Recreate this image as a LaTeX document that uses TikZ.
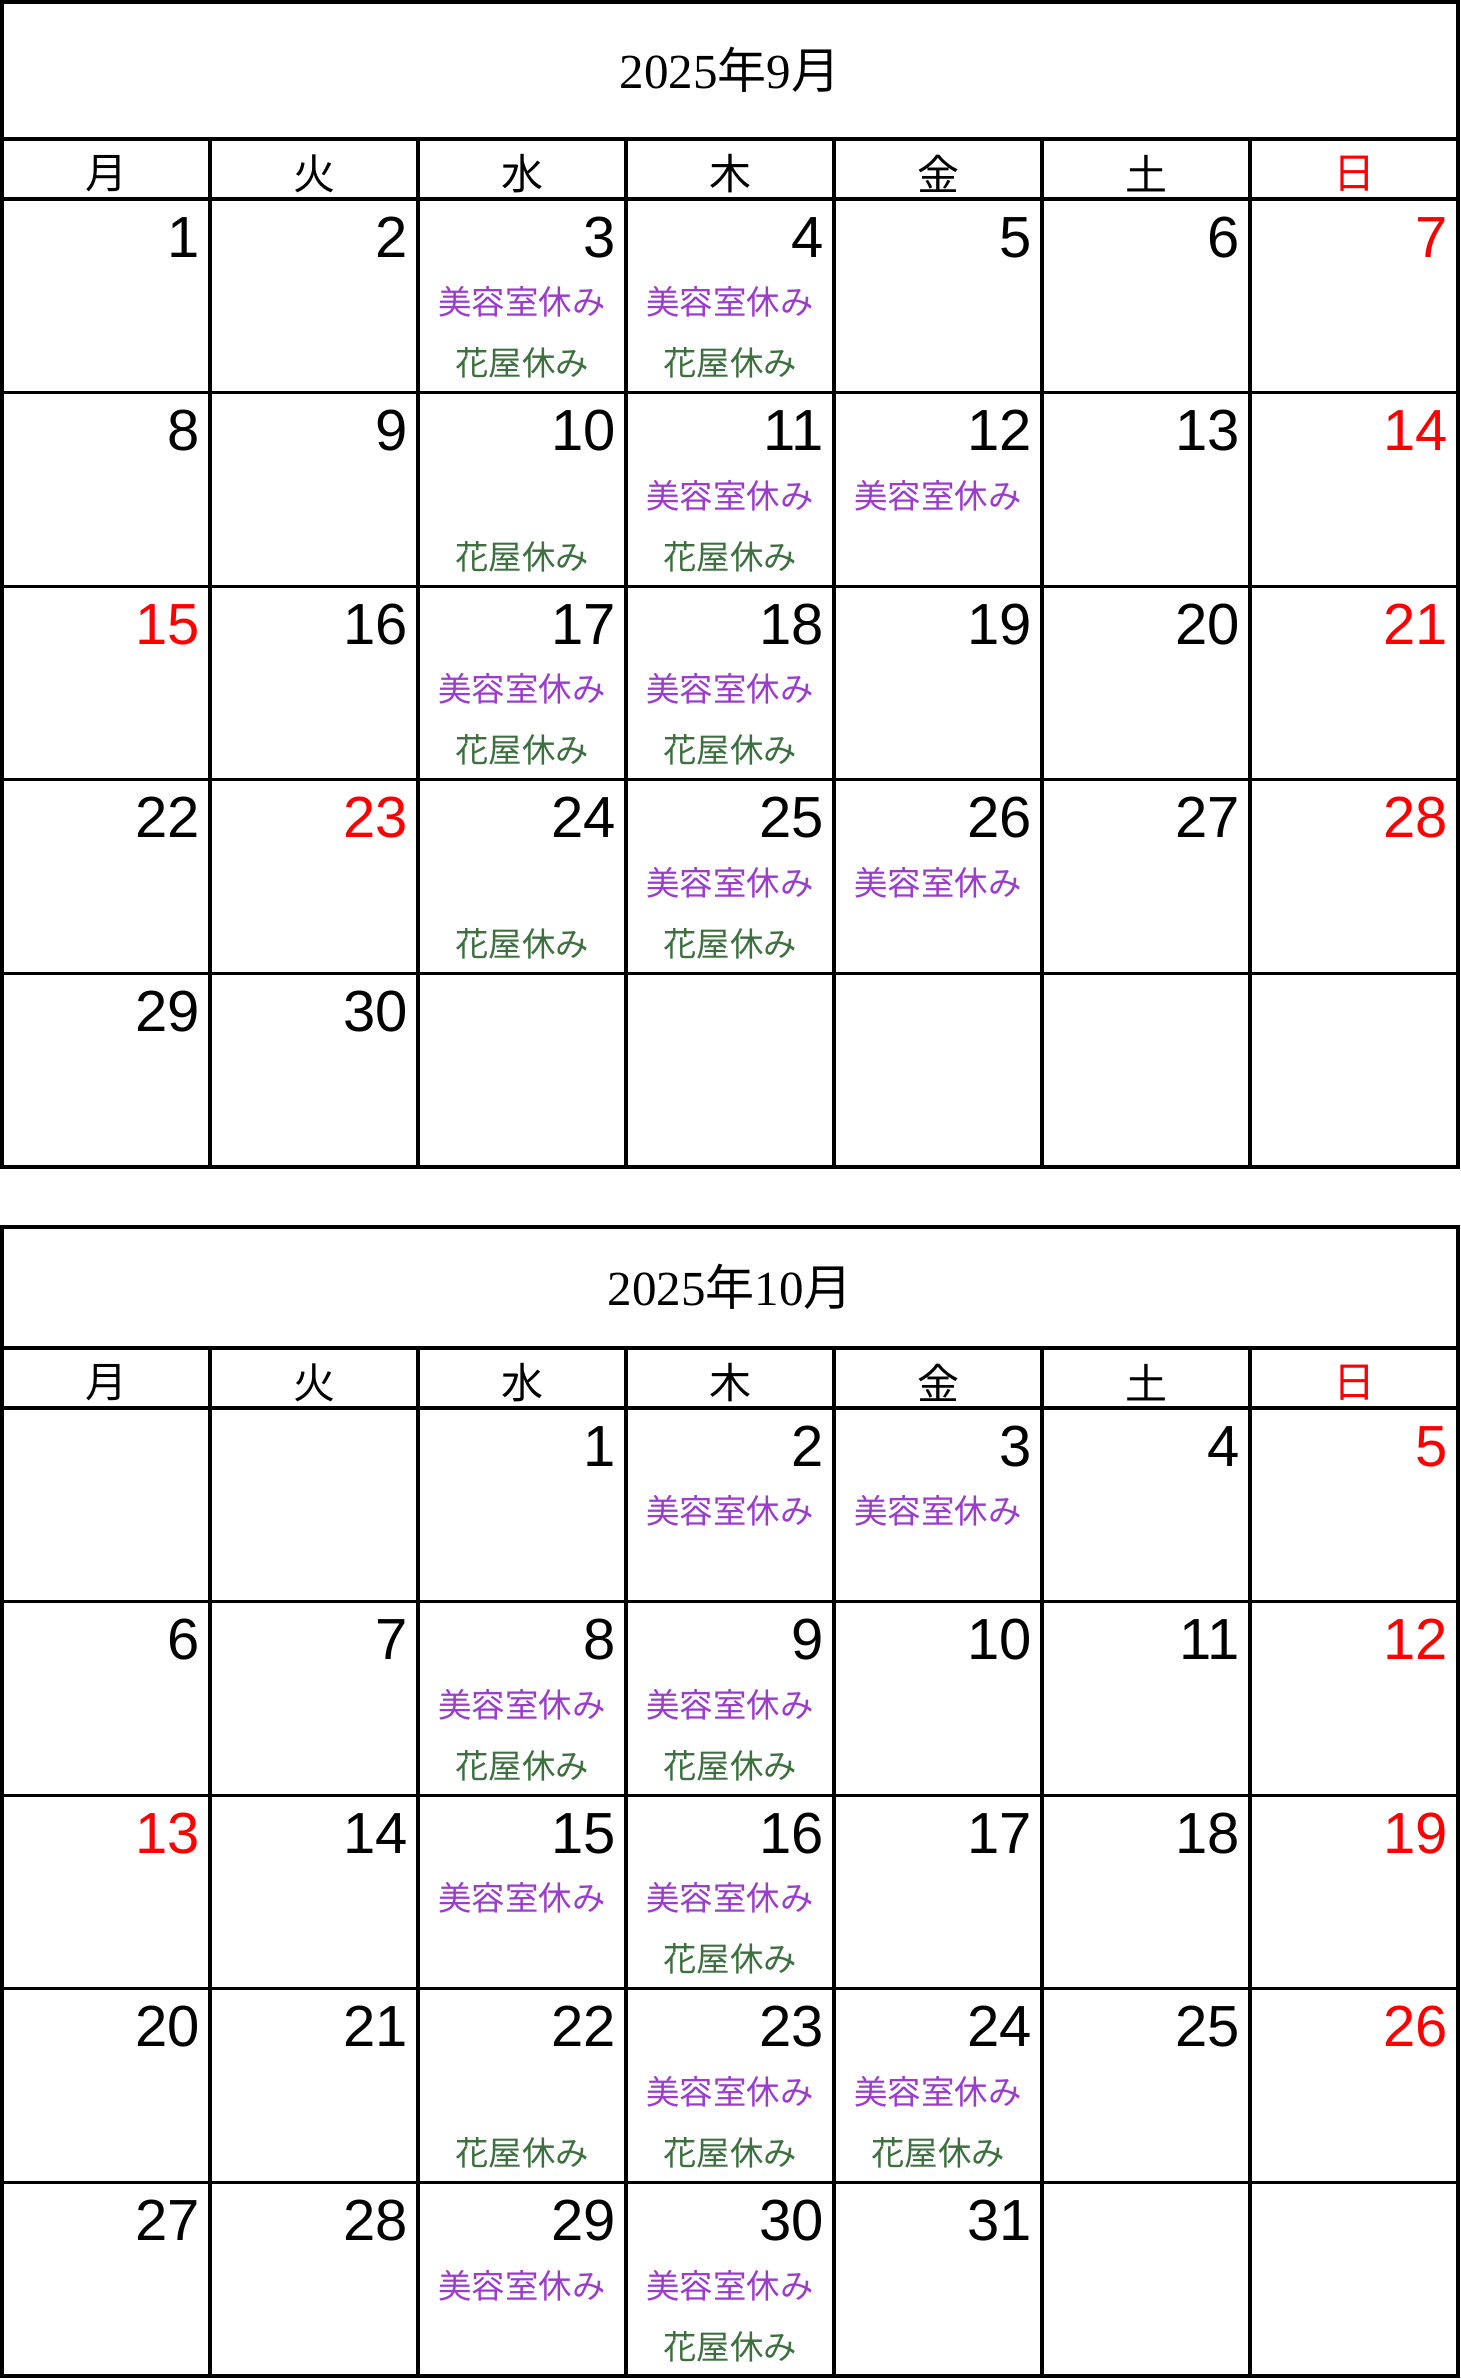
\documentclass[tikz,border=0pt]{standalone}
\usepackage{fontspec}
\setmainfont{Liberation Sans}
\newfontfamily\jpfont{Noto Sans CJK JP}
\newfontfamily\mcfont{Liberation Serif}
\definecolor{saloncol}{RGB}{155,60,205}
\definecolor{flowercol}{RGB}{60,112,62}
\begin{document}
\begin{tikzpicture}[x=0.5pt,y=-0.5pt,
	calline/.style={line width=1.6pt},
	num/.style={anchor=base east,inner sep=0pt,font=\fontsize{29}{29}\selectfont},
	wday/.style={inner sep=0pt,font=\jpfont\fontsize{21}{21}\selectfont},
	title/.style={inner sep=0pt,font=\fontsize{24.5}{24.5}\selectfont},
	salon/.style={inner sep=0pt,text=saloncol,font=\jpfont\fontsize{16.7}{16.7}\selectfont},
	flower/.style={inner sep=0pt,text=flowercol,font=\jpfont\fontsize{16.7}{16.7}\selectfont}]
	\useasboundingbox (0,0) rectangle (1461,2379);
	
	% 2025年9月
	\draw[calline] (2,2) rectangle (1458,1167);
	\draw[calline] (2,139)--(1458,139);
	\foreach \k in {0,...,4}
	{
		\draw[calline] (2,{199+193.6*\k})--(1458,{199+193.6*\k});
	}
	\foreach \i in {1,...,6}
	{
		\draw[calline] ({2+208*\i},139)--({2+208*\i},1167);
	}
	\node[title] (sept) at (730,70) {{\mcfont 2025}{\jpfont 年}{\mcfont 9}{\jpfont 月}};
	\foreach \w [count=\i from 0] in {月,火,水,木,金,土}
	{
		\node[wday] (sw\i) at ({106+208*\i},174) {\w};
	}
	\node[wday,text=red] (sw6) at (1354,174) {日};
	
	\foreach \d in {1,2,3,4,5,6,8,9,10,11,12,13,16,17,18,19,20,22,24,25,26,27,29,30}
	{
		\pgfmathtruncatemacro\c{mod(\d-1,7)}
		\pgfmathtruncatemacro\r{div(\d-1,7)}
		\node[num] (s\d) at ({200+208*\c},{257+193.6*\r}) {\d};
	}
	\foreach \d in {7,14,15,21,23,28}
	{
		\pgfmathtruncatemacro\c{mod(\d-1,7)}
		\pgfmathtruncatemacro\r{div(\d-1,7)}
		\node[num,text=red] (s\d) at ({200+208*\c},{257+193.6*\r}) {\d};
	}
	\foreach \d in {3,4,11,12,17,18,25,26}
	{
		\pgfmathtruncatemacro\c{mod(\d-1,7)}
		\pgfmathtruncatemacro\r{div(\d-1,7)}
		\node[salon] (sb\d) at ({106+208*\c},{302+193.6*\r}) {美容室休み};
	}
	\foreach \d in {3,4,10,11,17,18,24,25}
	{
		\pgfmathtruncatemacro\c{mod(\d-1,7)}
		\pgfmathtruncatemacro\r{div(\d-1,7)}
		\node[flower] (sh\d) at ({106+208*\c},{363+193.6*\r}) {花屋休み};
	}
	
	% 2025年10月
	\draw[calline] (2,1227) rectangle (1458,2376);
	\draw[calline] (2,1348)--(1458,1348);
	\foreach \k in {0,...,4}
	{
		\draw[calline] (2,{1408+193.6*\k})--(1458,{1408+193.6*\k});
	}
	\foreach \i in {1,...,6}
	{
		\draw[calline] ({2+208*\i},1348)--({2+208*\i},2376);
	}
	\node[title] (oct) at (730,1287) {{\mcfont 2025}{\jpfont 年}{\mcfont 10}{\jpfont 月}};
	\foreach \w [count=\i from 0] in {月,火,水,木,金,土}
	{
		\node[wday] (ow\i) at ({106+208*\i},1383) {\w};
	}
	\node[wday,text=red] (ow6) at (1354,1383) {日};
	
	\foreach \d in {1,2,3,4,6,7,8,9,10,11,14,15,16,17,18,20,21,22,23,24,25,27,28,29,30,31}
	{
		\pgfmathtruncatemacro\c{mod(\d+1,7)}
		\pgfmathtruncatemacro\r{div(\d+1,7)}
		\node[num] (o\d) at ({200+208*\c},{1466+193.6*\r}) {\d};
	}
	\foreach \d in {5,12,13,19,26}
	{
		\pgfmathtruncatemacro\c{mod(\d+1,7)}
		\pgfmathtruncatemacro\r{div(\d+1,7)}
		\node[num,text=red] (o\d) at ({200+208*\c},{1466+193.6*\r}) {\d};
	}
	\foreach \d in {2,3,8,9,15,16,23,24,29,30}
	{
		\pgfmathtruncatemacro\c{mod(\d+1,7)}
		\pgfmathtruncatemacro\r{div(\d+1,7)}
		\node[salon] (ob\d) at ({106+208*\c},{1511+193.6*\r}) {美容室休み};
	}
	\foreach \d in {8,9,16,22,23,24,30}
	{
		\pgfmathtruncatemacro\c{mod(\d+1,7)}
		\pgfmathtruncatemacro\r{div(\d+1,7)}
		\node[flower] (oh\d) at ({106+208*\c},{1572+193.6*\r}) {花屋休み};
	}
\end{tikzpicture}
\end{document}
